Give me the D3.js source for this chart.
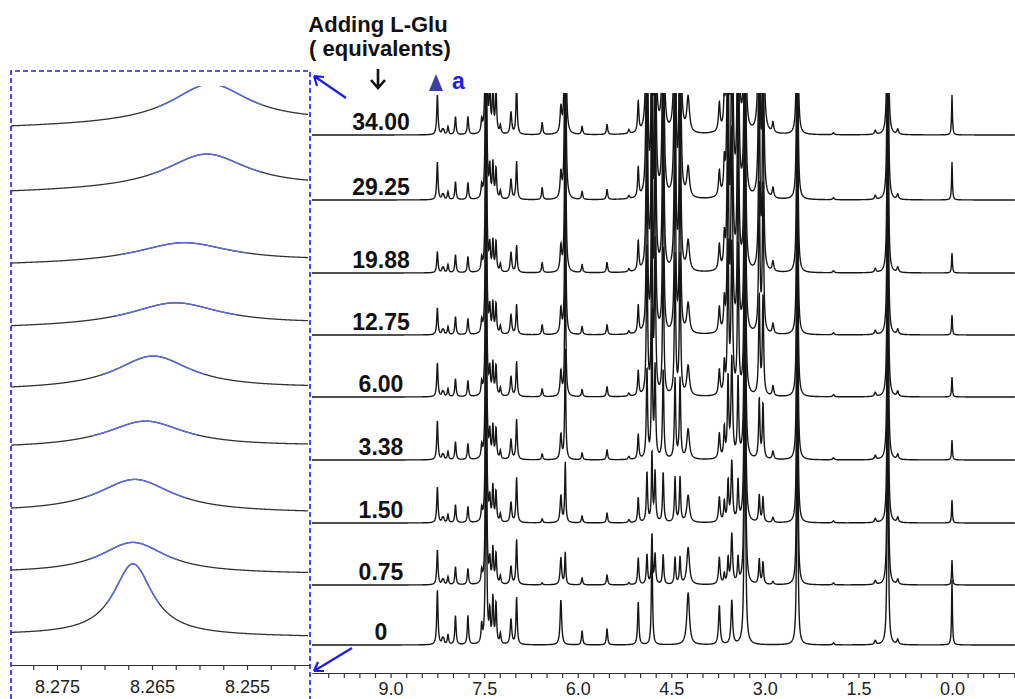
<!DOCTYPE html>
<html>
<head>
<meta charset="utf-8">
<script src="https://cdn.jsdelivr.net/npm/d3@7"></script>
<style>
  body { margin: 0; background: #fff; }
  svg { display: block; }
  text { font-family: Arial, "Liberation Sans", sans-serif; }
</style>
</head>
<body>
<svg id="chart" width="1015" height="699"></svg>
<script>
// L-Glu equivalents, bottom trace first
var equivLabels = ["0", "0.75", "1.50", "3.38", "6.00", "12.75", "19.88", "29.25", "34.00"];

// full spectrum: [ppm, half width (ppm), height in each trace bottom -> top]
var peaks = [
  [8.25, 0.012, [55, 35, 36, 39, 34, 27, 21, 38, 40]],
  [8.17, 0.012, [5, 4, 4, 4, 4, 4, 4, 4, 4]],
  [8.15, 0.012, [5, 4, 4, 4, 4, 4, 4, 4, 4]],
  [8.08, 0.012, [10, 8, 8, 8, 8, 8, 8, 8, 8]],
  [7.96, 0.012, [29, 18, 18, 18, 18, 18, 18, 18, 18]],
  [7.76, 0.012, [29, 16, 16, 16, 16, 16, 16, 17, 18]],
  [7.54, 0.012, [18, 12, 12, 12, 12, 12, 12, 12, 12]],
  [7.47, 0.010, [260, 260, 260, 260, 260, 260, 260, 260, 260]],
  [7.41, 0.012, [30, 22, 22, 25, 25, 25, 25, 30, 45]],
  [7.36, 0.012, [45, 35, 35, 32, 32, 30, 30, 35, 45]],
  [7.31, 0.012, [40, 30, 30, 30, 30, 30, 30, 30, 45]],
  [7.24, 0.012, [10, 8, 8, 8, 8, 8, 8, 8, 8]],
  [7.07, 0.015, [25, 18, 20, 20, 20, 20, 20, 20, 22]],
  [6.98, 0.012, [47, 45, 45, 40, 35, 30, 27, 38, 50]],
  [6.57, 0.012, [0, 2, 4, 6, 8, 10, 10, 12, 12]],
  [6.27, 0.015, [45, 27, 27, 25, 25, 25, 25, 25, 25]],
  [6.20, 0.010, [0, 32, 60, 110, 150, 200, 250, 300, 300]],
  [5.93, 0.012, [14, 7, 7, 7, 7, 8, 8, 8, 8]],
  [5.53, 0.012, [16, 10, 10, 10, 10, 10, 10, 10, 10]],
  [5.18, 0.015, [0, 2, 3, 3, 3, 3, 3, 3, 4]],
  [5.03, 0.012, [43, 27, 25, 25, 25, 28, 30, 30, 31]],
  [4.89, 0.012, [0, 30, 50, 90, 150, 200, 250, 300, 300]],
  [4.81, 0.010, [110, 50, 70, 150, 200, 250, 300, 300, 300]],
  [4.76, 0.012, [0, 30, 50, 90, 150, 200, 250, 300, 300]],
  [4.63, 0.012, [0, 30, 50, 90, 150, 200, 250, 300, 300]],
  [4.44, 0.012, [0, 27, 45, 80, 140, 200, 250, 300, 300]],
  [4.36, 0.012, [0, 27, 45, 80, 140, 200, 250, 300, 300]],
  [4.23, 0.025, [52, 37, 27, 30, 30, 30, 30, 30, 35]],
  [3.73, 0.015, [39, 27, 25, 25, 25, 25, 25, 25, 28]],
  [3.65, 0.012, [0, 10, 20, 30, 30, 30, 30, 30, 30]],
  [3.59, 0.012, [0, 25, 40, 80, 150, 200, 250, 300, 300]],
  [3.53, 0.015, [44, 50, 60, 100, 150, 200, 250, 300, 300]],
  [3.43, 0.012, [0, 25, 40, 80, 150, 200, 250, 300, 300]],
  [3.32, 0.012, [300, 300, 300, 300, 300, 300, 300, 300, 300]],
  [3.09, 0.012, [0, 25, 27, 60, 100, 150, 200, 250, 300]],
  [3.03, 0.012, [0, 22, 25, 55, 100, 150, 200, 250, 300]],
  [2.87, 0.015, [0, 3, 5, 8, 10, 10, 10, 10, 10]],
  [2.48, 0.010, [300, 300, 300, 300, 300, 300, 300, 300, 300]],
  [1.90, 0.015, [2, 2, 2, 2, 2, 2, 2, 2, 2]],
  [1.23, 0.015, [4, 4, 4, 4, 4, 4, 4, 4, 4]],
  [1.03, 0.010, [300, 300, 300, 300, 300, 300, 300, 300, 300]],
  [0.87, 0.015, [5, 5, 5, 5, 5, 5, 5, 5, 5]],
  [0.00, 0.008, [65, 25, 23, 20, 20, 20, 20, 38, 40]]
];

// zoom on proton "a" (bottom trace first)
var zoomCenter = [8.2670, 8.2670, 8.2668, 8.2657, 8.2649, 8.2626, 8.2617, 8.2593, 8.2589];
var zoomWidth  = [0.0025, 0.0042, 0.0048, 0.0050, 0.0048, 0.0058, 0.0060, 0.0053, 0.0050];
var zoomHeight = [72, 31, 33, 26, 33, 23, 20, 35, 40];
var zoomTilt   = [-2, -1, -1, 2, 2, 4, 4, 6, 6];

var fullLabels = [9.0, 7.5, 6.0, 4.5, 3.0, 1.5, 0.0];
var zoomLabels = [8.275, 8.265, 8.255];

// ---- layout ----
var svg = d3.select("#chart");
var fullBase = [645, 585, 523, 460, 397, 335, 273, 200, 135];
var zoomBase = [635, 573, 512, 448, 390, 328, 265, 193, 128];
var blue = "#1c1ce6";
var traceBlue = "#5a6bdc";

var xFull = d3.scaleLinear().domain([10.26, -1.01]).range([312, 1015]);
var xZoom = d3.scaleLinear().domain([8.27984, 8.24837]).range([11, 310]);
var amp = d3.scaleLinear().domain([0, 100]).range([0, 100]);

function lorentz(p, c, w) {
  var t = (p - c) / w;
  return 1 / (1 + t * t);
}

var defs = svg.append("defs");
defs.append("clipPath").attr("id", "clipFull")
  .append("rect").attr("x", 312).attr("y", 93).attr("width", 703).attr("height", 600);
defs.append("clipPath").attr("id", "clipZoom")
  .append("rect").attr("x", 11).attr("y", 86).attr("width", 297).attr("height", 575);

// full spectra
var ppmGrid = d3.range(10.26, -1.012, -0.004);
var fullLine = d3.line().x(d => xFull(d[0])).y(d => d[1]);
var gFull = svg.append("g").attr("clip-path", "url(#clipFull)");
equivLabels.forEach((lab, i) => {
  var pts = ppmGrid.map(p => {
    var s = 0;
    peaks.forEach(pk => { if (pk[2][i] > 0) s += pk[2][i] * lorentz(p, pk[0], pk[1]); });
    return [p, fullBase[i] - amp(s)];
  });
  gFull.append("path")
    .attr("d", fullLine(pts))
    .attr("fill", "none")
    .attr("stroke", "#161616")
    .attr("stroke-width", 1.4);
});

// zoomed spectra
var zoomGrid = d3.range(8.27984, 8.2483, -0.00004);
var gZoom = svg.append("g").attr("clip-path", "url(#clipZoom)");
equivLabels.forEach((lab, i) => {
  var pts = zoomGrid.map(p => {
    var x = xZoom(p);
    var l = lorentz(p, zoomCenter[i], zoomWidth[i]);
    var base = zoomBase[i] - zoomTilt[i] * (x - 11) / 299;
    return { x: x, y: base - amp(zoomHeight[i] * l), top: l > 0.45 };
  });
  var line = d3.line().x(d => d.x).y(d => d.y);
  gZoom.append("path")
    .attr("d", line(pts))
    .attr("fill", "none")
    .attr("stroke", "#333")
    .attr("stroke-width", 1.3);
  gZoom.append("path")
    .attr("d", line.defined(d => d.top)(pts))
    .attr("fill", "none")
    .attr("stroke", traceBlue)
    .attr("stroke-width", 1.4);
});

// axes
var fullTicks = d3.range(10.0, -1.01, -0.25);
var axFull = svg.append("g")
  .attr("transform", "translate(0,673)")
  .call(d3.axisBottom(xFull)
    .tickValues(fullTicks)
    .tickSize(5).tickSizeOuter(0).tickPadding(4)
    .tickFormat(v => fullLabels.some(l => Math.abs(l - v) < 1e-6) ? d3.format(".1f")(v) : ""));

var zoomTicks = d3.range(8.2775, 8.2484, -0.0025);
var axZoom = svg.append("g")
  .attr("transform", "translate(0,665)")
  .call(d3.axisBottom(xZoom)
    .tickValues(zoomTicks)
    .tickSize(5).tickSizeOuter(0).tickPadding(10)
    .tickFormat(v => zoomLabels.some(l => Math.abs(l - v) < 1e-6) ? d3.format(".3f")(v) : ""));

[axFull, axZoom].forEach(ax => {
  ax.selectAll("path, line").attr("stroke", "#333").attr("stroke-width", 1.2);
  ax.selectAll("text")
    .attr("fill", "#222")
    .style("font-size", "18px")
    .style("font-family", "Arial, 'Liberation Sans', sans-serif");
});

// equivalents labels
svg.append("g").selectAll("text")
  .data(equivLabels)
  .join("text")
  .attr("x", 381)
  .attr("y", (d, i) => fullBase[i] - 5)
  .attr("text-anchor", "middle")
  .attr("font-size", 23)
  .attr("font-weight", "bold")
  .attr("fill", "#111")
  .text(d => d);

// header
svg.append("text").attr("x", 378).attr("y", 32).attr("text-anchor", "middle")
  .attr("font-size", 22).attr("font-weight", "bold").attr("fill", "#111")
  .text("Adding L-Glu");
svg.append("text").attr("x", 380).attr("y", 56).attr("text-anchor", "middle")
  .attr("font-size", 22).attr("font-weight", "bold").attr("fill", "#111")
  .text("( equivalents)");

// black down arrow
svg.append("path")
  .attr("d", "M378,69 V88 M371,80 L378,88 L385,80")
  .attr("fill", "none").attr("stroke", "#111").attr("stroke-width", 2.6);

// peak "a" marker
svg.append("path")
  .attr("d", "M436,74 L443,91 L429,91 Z")
  .attr("fill", "#3d3da6");
svg.append("text").attr("x", 452).attr("y", 89)
  .attr("font-size", 23).attr("font-weight", "bold").attr("fill", blue)
  .text("a");

// dashed zoom box
svg.append("path")
  .attr("d", "M11,699 V71 H310 V699")
  .attr("fill", "none").attr("stroke", blue)
  .attr("stroke-width", 1.6).attr("stroke-dasharray", "5,3");

// blue arrows pointing to the box
svg.append("path")
  .attr("d", "M346,98 L314,76 M314,76 L317,86 M314,76 L324,77")
  .attr("fill", "none").attr("stroke", blue).attr("stroke-width", 2.2);
svg.append("path")
  .attr("d", "M352,648 L314,671 M314,671 L324,671 M314,671 L318,662")
  .attr("fill", "none").attr("stroke", blue).attr("stroke-width", 2.2);
</script>
</body>
</html>
